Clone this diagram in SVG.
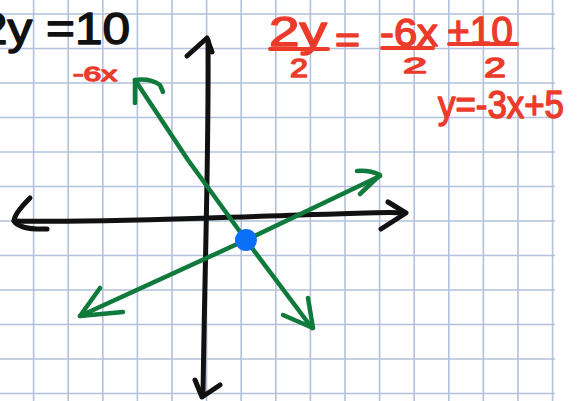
<svg xmlns="http://www.w3.org/2000/svg" width="582" height="401" viewBox="0 0 582 401">
<style>
.grid line{stroke:#b3c1dc;stroke-width:1.6}
.ink{fill:none;stroke-linecap:round;stroke-linejoin:round}
.blk{stroke:#111;stroke-width:5}
.grn{stroke:#0f7a3c;stroke-width:4.5}
.red{stroke:#ec3b2b;stroke-width:4;stroke-linecap:round}
.rt{fill:#ec3b2b;stroke:#ec3b2b;stroke-width:1.4;stroke-linejoin:round;font-family:"Liberation Sans",Arial,sans-serif}
.bt{fill:#111;stroke:#111;stroke-width:1.4;stroke-linejoin:round;font-family:"Liberation Sans",Arial,sans-serif}
</style>
<rect width="582" height="401" fill="#fff"/>
<g class="grid">
<line x1="33.6" y1="0" x2="33.6" y2="401"/><line x1="68.2" y1="0" x2="68.2" y2="401"/><line x1="102.8" y1="0" x2="102.8" y2="401"/><line x1="137.4" y1="0" x2="137.4" y2="401"/><line x1="172" y1="0" x2="172" y2="401"/><line x1="206.6" y1="0" x2="206.6" y2="401"/><line x1="241.2" y1="0" x2="241.2" y2="401"/><line x1="275.8" y1="0" x2="275.8" y2="401"/><line x1="310.4" y1="0" x2="310.4" y2="401"/><line x1="345" y1="0" x2="345" y2="401"/><line x1="379.6" y1="0" x2="379.6" y2="401"/><line x1="414.2" y1="0" x2="414.2" y2="401"/><line x1="448.8" y1="0" x2="448.8" y2="401"/><line x1="483.4" y1="0" x2="483.4" y2="401"/><line x1="518" y1="0" x2="518" y2="401"/><line x1="552.6" y1="0" x2="552.6" y2="401"/>
<line x1="0" y1="14" x2="555" y2="14"/><line x1="0" y1="48.5" x2="555" y2="48.5"/><line x1="0" y1="83" x2="555" y2="83"/><line x1="0" y1="117.5" x2="555" y2="117.5"/><line x1="0" y1="152" x2="555" y2="152"/><line x1="0" y1="186.5" x2="555" y2="186.5"/><line x1="0" y1="221" x2="555" y2="221"/><line x1="0" y1="255.5" x2="555" y2="255.5"/><line x1="0" y1="290" x2="555" y2="290"/><line x1="0" y1="324.5" x2="555" y2="324.5"/><line x1="0" y1="359" x2="555" y2="359"/><line x1="0" y1="393.5" x2="555" y2="393.5"/>
</g>
<g id="axes">
<path class="ink blk" d="M14 221 C100 223 200 218 300 215 S380 212 405 213"/>
<path class="ink blk" d="M30 198 Q14 214 14 221 Q20 230 47 229"/>
<path class="ink blk" d="M388 202 L406 213 L381 229"/>
<path class="ink blk" d="M208 40 C209 150 205 250 203 396"/>
<path class="ink blk" d="M187 56 L207 38 L212 52"/>
<path class="ink blk" d="M195 380 L202 397 L220 385"/>
</g>
<g id="line1">
<path class="ink grn" d="M135 80 Q160 118 188 160 L246 240 L312 328"/>
<path class="ink grn" d="M135 103 L135 80 Q150 78 160 85 L163 92"/>
<path class="ink grn" d="M283 315 L313 328 L308 298"/>
</g>
<g id="line2">
<path class="ink grn" d="M80 316 Q165 277 246 240 L380 176"/>
<path class="ink grn" d="M100 288 L80 316 L123 312"/>
<path class="ink grn" d="M357 171 Q370 170 380 175 L360 194"/>
</g>
<circle id="solution" cx="246" cy="240" r="11" fill="#0b6ef6"/>
<g id="work">
<text class="bt" x="-20" y="44" font-size="44" textLength="150" lengthAdjust="spacingAndGlyphs">2y =10</text>
<text class="rt" x="73" y="81" font-size="20" stroke-width="0.6" textLength="44" lengthAdjust="spacingAndGlyphs">-6x</text>
<text class="rt" x="269" y="46" font-size="42" textLength="58" lengthAdjust="spacingAndGlyphs">2y</text>
<line class="red" x1="270" y1="49" x2="328" y2="49"/>
<text class="rt" x="290" y="77" font-size="26" textLength="18" lengthAdjust="spacingAndGlyphs">2</text>
<text class="rt" x="335" y="52" font-size="36" textLength="25" lengthAdjust="spacingAndGlyphs">=</text>
<text class="rt" x="380" y="46" font-size="38" textLength="58" lengthAdjust="spacingAndGlyphs">-6x</text>
<line class="red" x1="382" y1="48" x2="433" y2="48"/>
<text class="rt" x="403" y="73" font-size="22" textLength="24" lengthAdjust="spacingAndGlyphs">2</text>
<text class="rt" x="447" y="45" font-size="40" textLength="66" lengthAdjust="spacingAndGlyphs">+10</text>
<line class="red" x1="449" y1="44" x2="517" y2="44"/>
<text class="rt" x="484" y="77" font-size="28" textLength="22" lengthAdjust="spacingAndGlyphs">2</text>
<text class="rt" x="438" y="118" font-size="38" textLength="126" lengthAdjust="spacingAndGlyphs">y=-3x+5</text>
</g>
</svg>
